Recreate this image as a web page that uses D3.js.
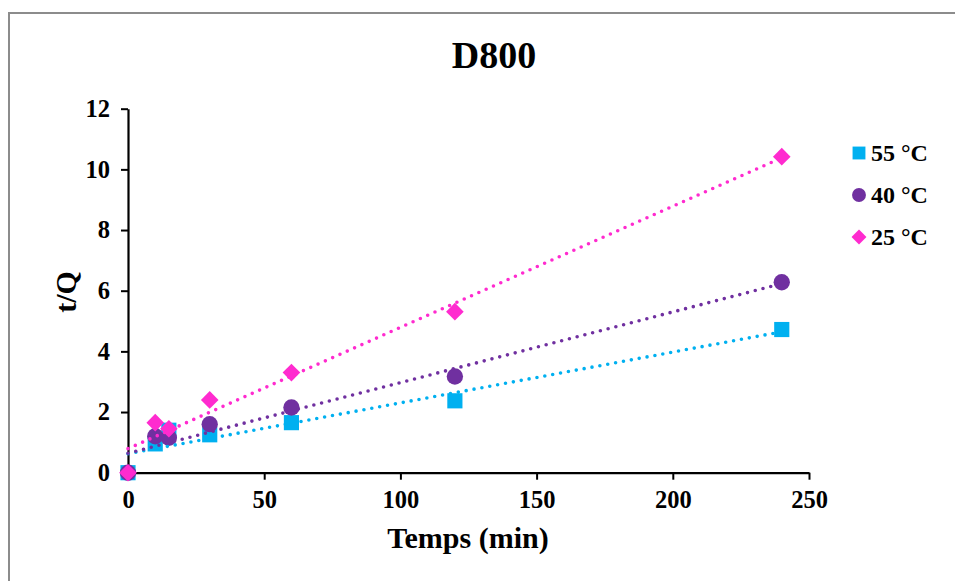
<!DOCTYPE html>
<html>
<head>
<meta charset="utf-8">
<script src="https://cdn.jsdelivr.net/npm/d3@7"></script>
<style>
  html, body { margin: 0; padding: 0; background: #fff; }
  svg { display: block; }
  text { font-family: "Liberation Serif", "Times New Roman", serif; font-weight: bold; fill: #000; }
</style>
</head>
<body>
<svg id="chart" width="955" height="581"></svg>
<script>
// Contact time (min)
const times = [0, 10, 15, 30, 60, 120, 240];
// t/Q for each temperature
const t55 = [0, 0.95, 1.4, 1.25, 1.65, 2.37, 4.72];
const t40 = [0, 1.2, 1.15, 1.6, 2.15, 3.17, 6.28];
const t25 = [0, 1.65, 1.45, 2.4, 3.3, 5.31, 10.42];
const seriesNames = ["55 °C", "40 °C", "25 °C"];
const seriesColors = ["#00B0F0", "#7030A0", "#FF2BCF"];
const seriesShapes = ["square", "circle", "diamond"];
const xTicks = [0, 50, 100, 150, 200, 250];
const yTicks = [0, 2, 4, 6, 8, 10, 12];

const series = [t55, t40, t25].map((vals, i) => ({
  name: seriesNames[i],
  color: seriesColors[i],
  shape: seriesShapes[i],
  points: times.map((t, j) => ({ x: t, y: vals[j] }))
}));

// marker shapes; the diamond is a square turned by 45 degrees
function markerPath(shape, scale) {
  if (shape === "circle") return d3.symbol().type(d3.symbolCircle).size(210 * scale)();
  if (shape === "square") return d3.symbol().type(d3.symbolSquare).size(230 * scale)();
  const r = 8.8 * Math.sqrt(scale);
  return `M0,${-r}L${r},0L0,${r}L${-r},0Z`;
}

const svg = d3.select("#chart");

// outer chart frame
svg.append("rect")
  .attr("x", 9).attr("y", 13)
  .attr("width", 960).attr("height", 600)
  .attr("fill", "none").attr("stroke", "#8c8c8c").attr("stroke-width", 2);

const x = d3.scaleLinear().domain([0, 250]).range([128, 809]);
const y = d3.scaleLinear().domain([0, 12]).range([472.7, 108.7]);

// title
svg.append("text").attr("x", 494).attr("y", 68)
  .attr("text-anchor", "middle").style("font-size", "38px").text("D800");

// axes
const xAxis = svg.append("g").attr("transform", `translate(0,${y(0)})`)
  .call(d3.axisBottom(x).tickValues(xTicks).tickSize(7).tickPadding(8).tickSizeOuter(0));
const yAxis = svg.append("g").attr("transform", `translate(${x(0)},0)`)
  .call(d3.axisLeft(y).tickValues(yTicks).tickSize(7).tickPadding(11).tickSizeOuter(0));
[xAxis, yAxis].forEach(g => {
  g.select(".domain").attr("stroke", "#000").attr("stroke-width", 2.2);
  g.selectAll(".tick line").attr("stroke", "#000").attr("stroke-width", 2);
  g.selectAll(".tick text").style("font-size", "24.5px")
    .style("font-family", "'Liberation Serif', 'Times New Roman', serif")
    .style("font-weight", "bold").attr("fill", "#000");
});
xAxis.selectAll(".tick text").attr("dy", "0.82em");

// axis titles
svg.append("text").attr("x", 468).attr("y", 548)
  .attr("text-anchor", "middle").style("font-size", "30px").text("Temps (min)");
svg.append("text")
  .attr("transform", `translate(76,292) rotate(-90)`)
  .attr("text-anchor", "middle").style("font-size", "30px").text("t/Q");

// markers
series.forEach(s => {
  svg.append("g").selectAll("path")
    .data(s.points).join("path")
    .attr("transform", d => `translate(${x(d.x)},${y(d.y)})`)
    .attr("d", markerPath(s.shape, 1))
    .attr("fill", s.color);
});

// least-squares linear trendlines, dotted
series.forEach(s => {
  const mx = d3.mean(s.points, d => d.x), my = d3.mean(s.points, d => d.y);
  const sxy = d3.sum(s.points, d => (d.x - mx) * (d.y - my));
  const sxx = d3.sum(s.points, d => (d.x - mx) * (d.x - mx));
  const slope = sxy / sxx, icpt = my - slope * mx;
  const ends = [0, d3.max(times)].map(t => ({ x: t, y: icpt + slope * t }));
  svg.append("path")
    .attr("d", d3.line().x(d => x(d.x)).y(d => y(d.y))(ends))
    .attr("fill", "none").attr("stroke", s.color)
    .attr("stroke-width", 3.6).attr("stroke-linecap", "round")
    .attr("stroke-dasharray", "0 8");
});

// legend
const legend = svg.append("g");
series.forEach((s, i) => {
  const cy = 153 + i * 42;
  legend.append("path")
    .attr("transform", `translate(859,${cy})`)
    .attr("d", markerPath(s.shape, 0.72))
    .attr("fill", s.color);
  legend.append("text").attr("x", 871).attr("y", cy + 8)
    .style("font-size", "24px").text(s.name);
});
</script>
</body>
</html>
